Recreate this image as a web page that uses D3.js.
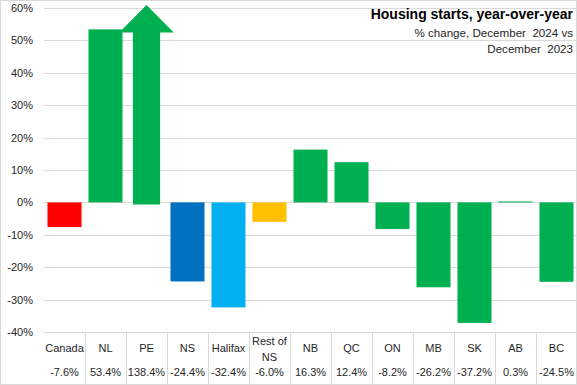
<!DOCTYPE html>
<html>
<head>
<meta charset="utf-8">
<script src="https://cdn.jsdelivr.net/npm/d3@7"></script>
<style>
  body { margin: 0; background: #fff; }
  svg { display: block; font-family: 'Liberation Sans', Arial, sans-serif; }
</style>
</head>
<body>
<div id="chart"></div>
<script>
'use strict';

// data
let categories = ['Canada', 'NL', 'PE', 'NS', 'Halifax', 'Rest of NS', 'NB', 'QC', 'ON', 'MB', 'SK', 'AB', 'BC'];
let values = [-7.6, 53.4, 138.4, -24.4, -32.4, -6.0, 16.3, 12.4, -8.2, -26.2, -37.2, 0.3, -24.5];
let barColors = ['#ff0000', '#00b050', '#00b050', '#0070c0', '#00b0f0', '#ffc000', '#00b050',
                 '#00b050', '#00b050', '#00b050', '#00b050', '#00b050', '#00b050'];
let yTicks = [60, 50, 40, 30, 20, 10, 0, -10, -20, -30, -40];
let titleText = 'Housing starts, year-over-year';
let subtitleLines = ['% change, December  2024 vs', 'December  2023'];

let width = 577;
let height = 385;
let plot = { left: 44, right: 577, top: 8, bottom: 332 };
let yMax = 60; // PE runs off the top, drawn as an arrow

let svg = d3.select('#chart')
    .append('svg')
    .attr('width', width)
    .attr('height', height);

let x = d3.scaleBand()
    .domain(categories)
    .range([plot.left, plot.right])
    .paddingInner(0.17)
    .paddingOuter(0.085);

// cells of the data table under the chart
let xCell = d3.scaleBand()
    .domain(categories)
    .range([plot.left, plot.right]);

let y = d3.scaleLinear()
    .domain([-40, yMax])
    .range([plot.bottom, plot.top]);

// gridlines
svg.append('g')
    .selectAll('line')
    .data(yTicks)
    .join('line')
    .attr('x1', plot.left)
    .attr('x2', plot.right)
    .attr('y1', d => Math.round(y(d)) + 0.5)
    .attr('y2', d => Math.round(y(d)) + 0.5)
    .attr('stroke', '#d9d9d9')
    .attr('stroke-width', 1);

// y tick labels
svg.append('g')
    .selectAll('text')
    .data(yTicks)
    .join('text')
    .attr('x', 33)
    .attr('y', d => y(d) + 4)
    .attr('text-anchor', 'end')
    .attr('font-size', 11)
    .attr('fill', '#262626')
    .text(d => d + '%');

// bars (PE is drawn as an arrow instead)
let inRange = categories.map((c, i) => ({ c: c, v: values[i], col: barColors[i] }))
    .filter(d => d.v <= yMax);

svg.append('g')
    .selectAll('rect')
    .data(inRange)
    .join('rect')
    .attr('x', d => x(d.c))
    .attr('width', x.bandwidth())
    .attr('y', d => y(Math.max(0, d.v)))
    .attr('height', d => Math.abs(y(d.v) - y(0)))
    .attr('fill', d => d.col);

// off-scale arrow
categories.forEach((c, i) => {
    if (values[i] <= yMax) return;
    let cx = x(c) + x.bandwidth() / 2;
    let shaft = x.bandwidth() * 0.8 / 2;
    let head = x.bandwidth() * 1.6 / 2;
    let tip = y(yMax) - 3;
    let neck = y(50) - 8;
    let base = y(0) + 2;
    let pts = [
        [cx - shaft, base], [cx - shaft, neck], [cx - head, neck], [cx, tip],
        [cx + head, neck], [cx + shaft, neck], [cx + shaft, base]
    ];
    svg.append('path')
        .attr('d', d3.line()(pts) + 'Z')
        .attr('fill', barColors[i]);
});

// data table
let table = svg.append('g');
table.selectAll('line.sep')
    .data(categories.slice(1))
    .join('line')
    .attr('class', 'sep')
    .attr('x1', d => Math.round(xCell(d)) + 0.5)
    .attr('x2', d => Math.round(xCell(d)) + 0.5)
    .attr('y1', plot.bottom)
    .attr('y2', height)
    .attr('stroke', '#d9d9d9');

table.selectAll('text.cat')
    .data(categories)
    .join('text')
    .attr('class', 'cat')
    .attr('text-anchor', 'middle')
    .attr('font-size', 11)
    .attr('fill', '#262626')
    .attr('x', d => xCell(d) + xCell.bandwidth() / 2)
    .attr('y', 352)
    .each(function(d) {
        let el = d3.select(this);
        if (d === 'Rest of NS') {
            el.append('tspan').attr('x', el.attr('x')).attr('y', 345).text('Rest of');
            el.append('tspan').attr('x', el.attr('x')).attr('y', 361).text('NS');
        } else {
            el.text(d);
        }
    });

table.selectAll('text.val')
    .data(values)
    .join('text')
    .attr('class', 'val')
    .attr('text-anchor', 'middle')
    .attr('font-size', 11)
    .attr('fill', '#262626')
    .attr('x', (d, i) => xCell(categories[i]) + xCell.bandwidth() / 2)
    .attr('y', 376)
    .text(d => d.toFixed(1) + '%');

// title block
svg.append('text')
    .attr('x', 573)
    .attr('y', 19)
    .attr('text-anchor', 'end')
    .attr('font-family', "'Liberation Sans Narrow', 'Arial Narrow', sans-serif")
    .attr('font-weight', 'bold')
    .attr('font-size', 14)
    .attr('fill', '#000')
    .text(titleText);

svg.append('g')
    .selectAll('text')
    .data(subtitleLines)
    .join('text')
    .attr('x', 573)
    .attr('y', (d, i) => 37 + i * 16)
    .attr('text-anchor', 'end')
    .attr('font-size', 11.6)
    .attr('fill', '#262626')
    .style('white-space', 'pre')
    .text(d => d);

// chart border
svg.append('rect')
    .attr('x', 0.5)
    .attr('y', 0.5)
    .attr('width', width - 1)
    .attr('height', height - 1)
    .attr('fill', 'none')
    .attr('stroke', '#d9d9d9');
</script>
</body>
</html>
